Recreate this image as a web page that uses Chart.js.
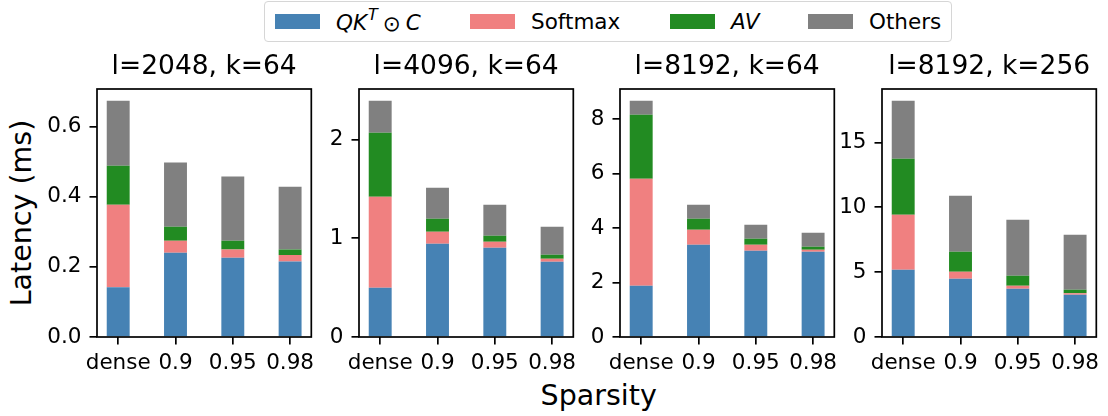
<!DOCTYPE html>
<html>
<head>
<meta charset="utf-8">
<script src="https://cdn.jsdelivr.net/npm/chart.js@4/dist/chart.umd.min.js"></script>
<style>
  body { margin: 0; background: #fff; font-family: "DejaVu Sans"; }
  #fig { position: relative; width: 1108px; height: 416px; overflow: hidden; }
  .panel { position: absolute; top: 0; }
  #legend {
    position: absolute; left: 264px; top: 1px; height: 39px;
    border: 1.7px solid #d6d6d6; border-radius: 4px;
    display: flex; align-items: center; padding: 0 10px 0 10px;
    font-size: 21.5px; color: #000; white-space: nowrap;
  }
  .item { display: flex; align-items: center; margin-right: 46px; }
  .item:last-child { margin-right: 0; }
  .patch { width: 45px; height: 15.5px; margin-right: 16px; }
  .txt { display: inline-block; }
  .lbl { position: absolute; font-size: 28.5px; line-height: 34px; color: #000; white-space: nowrap; text-align: center; }
</style>
</head>
<body>
<div id="fig">
  <div id="legend"></div>
  <div class="lbl" id="ylab" style="width:300px; left:-127.8px; top:196px; transform: rotate(-90deg);">Latency (ms)</div>
  <div class="lbl" id="xlab" style="width:300px; left:448.7px; top:379px;">Sparsity</div>
</div>
<script>
// sparsity levels on the x axis
var categories = ['dense', '0.9', '0.95', '0.98'];
var titles = ['l=2048, k=64', 'l=4096, k=64', 'l=8192, k=64', 'l=8192, k=256'];

// latency in ms, one row per panel
var qk = [
    [0.142, 0.240, 0.226, 0.215],
    [0.499, 0.944, 0.904, 0.762],
    [1.884, 3.388, 3.168, 3.131],
    [5.19, 4.495, 3.725, 3.262]
];
var softmax = [
    [0.235, 0.034, 0.023, 0.019],
    [0.921, 0.122, 0.061, 0.031],
    [3.926, 0.551, 0.220, 0.074],
    [4.24, 0.540, 0.231, 0.103]
];
var av = [
    [0.111, 0.040, 0.025, 0.015],
    [0.647, 0.131, 0.060, 0.040],
    [2.350, 0.404, 0.221, 0.110],
    [4.31, 1.541, 0.770, 0.283]
];
var others = [
    [0.185, 0.183, 0.183, 0.179],
    [0.324, 0.314, 0.314, 0.283],
    [0.510, 0.513, 0.513, 0.514],
    [4.47, 4.314, 4.314, 4.238]
];

var yStep = [0.2, 1, 2, 5];
var yDecimals = [1, 0, 0, 0];

var seriesNames = ['QK^T ⊙ C', 'Softmax', 'AV', 'Others'];
var seriesHtml = [
    '<i>QK</i><sup style="font-size:16px;position:relative;top:-2px;margin-left:1px;"><i>T</i></sup><span style="margin:0 5px 0 5px">⊙</span><i>C</i>',
    'Softmax', '<i>AV</i>', 'Others'
];
var labelW = [88, 93, 31, 0];
var colors = ['#4682B4', '#F08080', '#228B22', '#808080'];

Chart.defaults.font.family = 'DejaVu Sans';
Chart.defaults.color = '#000';

// legend
var legend = document.getElementById('legend');
seriesNames.forEach(function (name, i) {
    var it = document.createElement('div');
    it.className = 'item';
    it.innerHTML = '<div class="patch" style="background:' + colors[i] + '"></div>' +
        '<span class="txt" style="min-width:' + labelW[i] + 'px">' + seriesHtml[i] + '</span>';
    legend.appendChild(it);
});

var frame = {
    id: 'frame',
    afterDraw: function (chart) {
        var a = chart.chartArea, ctx = chart.ctx;
        ctx.save();
        ctx.strokeStyle = '#000';
        ctx.lineWidth = 1.7;
        ctx.strokeRect(a.left, a.top, a.right - a.left, a.bottom - a.top);
        ctx.restore();
    }
};

var lefts = [97, 358.5, 620, 881.5];
var plotW = 218, axisW = 80, padR = 6;

titles.forEach(function (title, p) {
    var div = document.createElement('div');
    div.className = 'panel';
    div.style.left = (lefts[p] - axisW) + 'px';
    var cv = document.createElement('canvas');
    cv.width = axisW + plotW + padR;
    cv.height = 416;
    div.appendChild(cv);
    document.getElementById('fig').appendChild(div);

    var rows = [qk[p], softmax[p], av[p], others[p]];
    var totals = categories.map(function (c, i) {
        return rows.reduce(function (s, r) { return s + r[i]; }, 0);
    });
    var ymax = Math.max.apply(null, totals) * 1.05;

    new Chart(cv, {
        type: 'bar',
        data: {
            datasets: rows.map(function (r, k) {
                return {
                    label: seriesNames[k],
                    data: r.map(function (v, i) { return {x: i, y: v}; }),
                    backgroundColor: colors[k],
                    borderWidth: 0,
                    categoryPercentage: 1,
                    barPercentage: 0.4
                };
            })
        },
        options: {
            responsive: false,
            animation: false,
            layout: {padding: {right: padR, top: 0, bottom: 0, left: 0}},
            plugins: {
                legend: {display: false},
                tooltip: {enabled: false},
                title: {
                    display: true,
                    text: title,
                    fullSize: false,
                    font: {size: 26.5, weight: 'normal'},
                    color: '#000',
                    padding: {top: 51.6, bottom: 5.6}
                }
            },
            scales: {
                x: {
                    type: 'linear',
                    stacked: true,
                    offset: false,
                    min: -0.37,
                    max: 3.37,
                    afterBuildTicks: function (s) {
                        s.ticks = categories.map(function (c, i) { return {value: i}; });
                    },
                    afterFit: function (s) { s.height = 79; },
                    ticks: {
                        callback: function (v) { return categories[v]; },
                        font: {size: 21.5},
                        padding: 6,
                        maxRotation: 0,
                        autoSkip: false
                    },
                    grid: {drawOnChartArea: false, offset: false, color: '#000', lineWidth: 1.7, tickLength: 7.5},
                    border: {display: false}
                },
                y: {
                    stacked: true,
                    min: 0,
                    max: ymax,
                    afterFit: function (s) { s.width = axisW; },
                    ticks: {
                        stepSize: yStep[p],
                        includeBounds: false,
                        callback: function (v) { return v.toFixed(yDecimals[p]); },
                        font: {size: 21.5},
                        padding: 8
                    },
                    grid: {drawOnChartArea: false, color: '#000', lineWidth: 1.7, tickLength: 7.5},
                    border: {display: false}
                }
            }
        },
        plugins: [frame]
    });
});
</script>
</body>
</html>
